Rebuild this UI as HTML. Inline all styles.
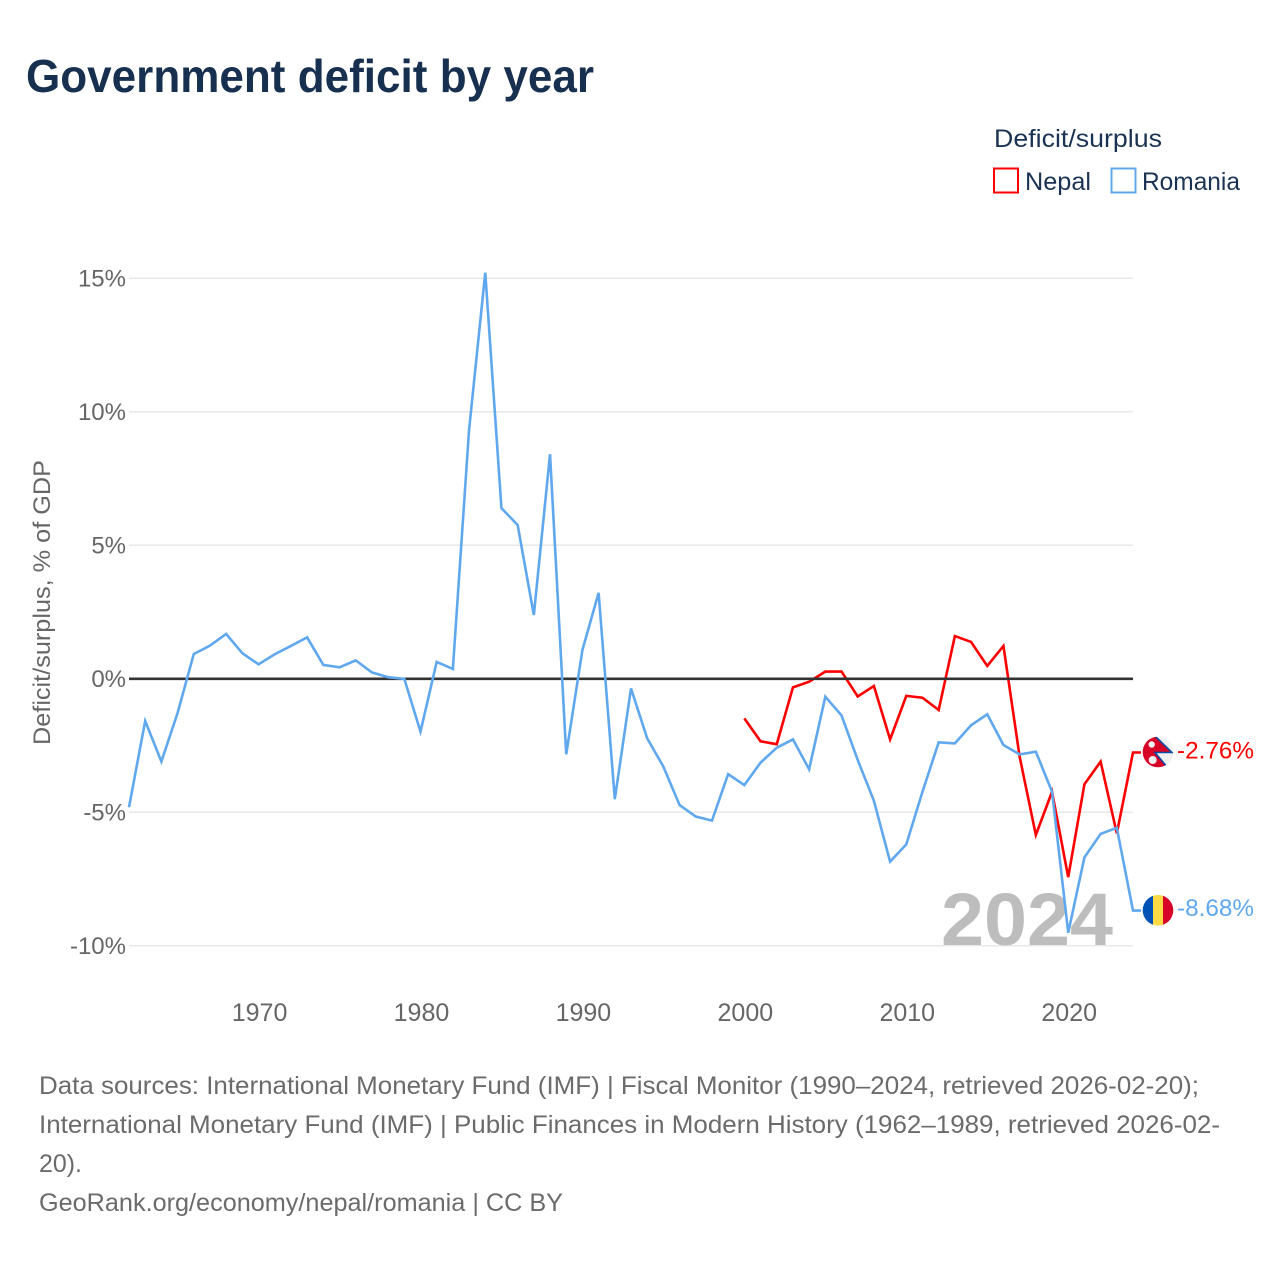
<!DOCTYPE html>
<html lang="en">
<head>
<meta charset="utf-8">
<title>Government deficit by year</title>
<style>
html,body{margin:0;padding:0;background:#fff;}
svg{display:block;font-family:"Liberation Sans",sans-serif;}
</style>
</head>
<body>
<svg id="chart" xmlns="http://www.w3.org/2000/svg" width="1280" height="1280" viewBox="0 0 1280 1280">
  <defs>
    <clipPath id="flag-clip-np"><circle cx="1158" cy="752" r="15.3"/></clipPath>
    <clipPath id="flag-clip-ro"><circle cx="1158" cy="910.3" r="15.3"/></clipPath>
  </defs>
  <rect width="1280" height="1280" fill="#fff"/>
  <text x="26" y="92" font-size="46" font-weight="700" fill="#17304f" textLength="568" lengthAdjust="spacingAndGlyphs">Government deficit by year</text>

  <g font-size="25" fill="#1a3352">
    <text x="994" y="147" textLength="168" lengthAdjust="spacingAndGlyphs">Deficit/surplus</text>
    <rect x="994" y="168.5" width="24" height="24" fill="none" stroke="#ff0000" stroke-width="2"/>
    <text x="1025" y="190" textLength="66" lengthAdjust="spacingAndGlyphs">Nepal</text>
    <rect x="1111.5" y="168.5" width="24" height="24" fill="none" stroke="#60a8ee" stroke-width="2"/>
    <text x="1142" y="190" textLength="98" lengthAdjust="spacingAndGlyphs">Romania</text>
  </g>

  <text transform="translate(50,745) rotate(-90)" font-size="24" fill="#666" textLength="285" lengthAdjust="spacingAndGlyphs">Deficit/surplus, % of GDP</text>

  <g id="grid"></g>
  <g id="ylabels"></g>
  <g id="xlabels"></g>

  <text x="941" y="945" font-size="74" font-weight="700" fill="#bdbdbd" textLength="172" lengthAdjust="spacingAndGlyphs">2024</text>

  <g id="series"></g>

  <g clip-path="url(#flag-clip-np)">
    <rect x="1142" y="736" width="32" height="32" fill="#f0f0f0"/>
    <polygon points="1140,730 1155,736 1172,752.5 1155,752.5 1168,768 1140,772" fill="#d80027" stroke="#0b4ea2" stroke-width="1.6"/>
    <circle cx="1151.7" cy="744.5" r="3.2" fill="#f0f0f0"/>
    <circle cx="1152.7" cy="760" r="4" fill="#f0f0f0"/>
  </g>
  <g clip-path="url(#flag-clip-ro)">
    <rect x="1142" y="895" width="11" height="31" fill="#0052b4"/>
    <rect x="1153" y="895" width="10" height="31" fill="#ffda44"/>
    <rect x="1163" y="895" width="11" height="31" fill="#d80027"/>
  </g>
  <text id="label-nepal" x="1177" y="758.5" font-size="24.5" fill="#ff0000" textLength="77" lengthAdjust="spacingAndGlyphs"></text>
  <text id="label-romania" x="1177" y="916" font-size="24.5" fill="#60a8ee" textLength="77" lengthAdjust="spacingAndGlyphs"></text>

  <g font-size="25" fill="#6b6b6b">
    <text x="39" y="1094" textLength="1160" lengthAdjust="spacingAndGlyphs">Data sources: International Monetary Fund (IMF) | Fiscal Monitor (1990–2024, retrieved 2026-02-20);</text>
    <text x="39" y="1133" textLength="1181" lengthAdjust="spacingAndGlyphs">International Monetary Fund (IMF) | Public Finances in Modern History (1962–1989, retrieved 2026-02-</text>
    <text x="39" y="1172" textLength="43" lengthAdjust="spacingAndGlyphs">20).</text>
    <a><text x="39" y="1211" textLength="524" lengthAdjust="spacingAndGlyphs">GeoRank.org/economy/nepal/romania | CC BY</text></a>
  </g>
</svg>
<script>
const romaniaStartYear = 1962;
const nepalStartYear = 2000;
const romaniaValues = [-4.81,-1.58,-3.10,-1.28,0.93,1.24,1.68,0.96,0.54,0.92,1.23,1.55,0.52,0.43,0.69,0.24,0.06,0,-1.98,0.63,0.37,9.32,15.21,6.39,5.76,2.39,8.41,-2.83,1.08,3.22,-4.51,-0.36,-2.23,-3.29,-4.73,-5.16,-5.31,-3.57,-3.98,-3.14,-2.58,-2.27,-3.39,-0.67,-1.37,-3.04,-4.57,-6.85,-6.20,-4.23,-2.38,-2.42,-1.74,-1.33,-2.48,-2.83,-2.73,-4.23,-9.51,-6.69,-5.81,-5.58,-8.68];
const nepalValues = [-1.48,-2.34,-2.45,-0.32,-0.11,0.27,0.27,-0.66,-0.27,-2.27,-0.64,-0.71,-1.17,1.60,1.38,0.48,1.23,-2.92,-5.85,-4.23,-7.43,-3.95,-3.10,-5.79,-2.76];
const yTicks = [15,10,5,0,-5,-10];
const xTicks = [1970,1980,1990,2000,2010,2020];

function xScale(year){ return 129 + (year - 1962) * (1004 / 62); }
function yScale(v){ return 678.8 - v * 26.7; }

const NS = 'http://www.w3.org/2000/svg';
function make(tag, parent, attrs){
  const el = document.createElementNS(NS, tag);
  for (const k in attrs) el.setAttribute(k, attrs[k]);
  parent.appendChild(el);
  return el;
}

const grid = document.getElementById('grid');
const ylabels = document.getElementById('ylabels');
const xlabels = document.getElementById('xlabels');
const seriesGroup = document.getElementById('series');

yTicks.filter(function(t){ return t !== 0; }).forEach(function(t){
  const line = make('line', grid, {x1:129, x2:1133, y1:yScale(t), y2:yScale(t), stroke:'#e8e8e8', 'stroke-width':1.5});
  
  
});

yTicks.forEach(function(t){
  const label = make('text', ylabels, {x:126, y:yScale(t)+8, 'text-anchor':'end', 'font-size':24, fill:'#666'});
  label.textContent = t + '%';
  
  
});

xTicks.forEach(function(t){
  const label = make('text', xlabels, {x:xScale(t)+1, y:1021, 'text-anchor':'middle', 'font-size':25, fill:'#666'});
  label.textContent = String(t);
  
  
});

function buildPath(values, startYear){
  let d = '';
  values.forEach(function(v, i){
    d += (i ? 'L' : 'M') + xScale(startYear + i).toFixed(2) + ' ' + yScale(v).toFixed(2);
  });
  const last = values[values.length - 1];
  d += 'L' + (xScale(startYear + values.length - 1) + 8).toFixed(2) + ' ' + yScale(last).toFixed(2);
  return d;
}

const nepalLine = make('path', seriesGroup, {d:buildPath(nepalValues, nepalStartYear), fill:'none', stroke:'#ff0000', 'stroke-width':2.6, 'stroke-linejoin':'miter'});



const zeroLine = make('line', seriesGroup, {x1:129, x2:1133, y1:yScale(0), y2:yScale(0), stroke:'#333', 'stroke-width':2.7});



const romaniaLine = make('path', seriesGroup, {d:buildPath(romaniaValues, romaniaStartYear), fill:'none', stroke:'#60a8ee', 'stroke-width':2.6, 'stroke-linejoin':'miter'});



document.getElementById('label-nepal').textContent = nepalValues[nepalValues.length - 1].toFixed(2) + '%';
document.getElementById('label-romania').textContent = romaniaValues[romaniaValues.length - 1].toFixed(2) + '%';
</script>
</body>
</html>
